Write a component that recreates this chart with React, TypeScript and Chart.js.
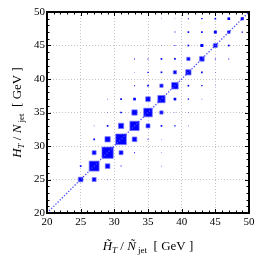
import React, { useEffect, useRef } from 'react';
import { Chart, registerables } from 'chart.js';

Chart.register(...registerables);

// Bin centres (GeV)
const X_BINS = [25, 27, 29, 31, 33, 35, 37, 39, 41, 43, 45, 47, 49];
const Y_BINS = [25, 27, 29, 31, 33, 35, 37, 39, 41, 43, 45, 47, 49];

// Relative bin contents; rows follow Y_BINS, columns follow X_BINS
const ROW_25 = [170, 125, 3, 0, 0, 0, 0, 0, 0, 0, 0, 0, 0];
const ROW_27 = [22, 779, 170, 8, 0, 0, 3, 0, 0, 0, 0, 0, 0];
const ROW_29 = [0, 125, 1000, 125, 8, 0, 3, 0, 0, 0, 0, 0, 0];
const ROW_31 = [0, 22, 221, 886, 170, 8, 3, 0, 0, 0, 0, 0, 0];
const ROW_33 = [0, 3, 22, 221, 678, 125, 22, 14, 3, 0, 0, 0, 0];
const ROW_35 = [0, 0, 3, 22, 221, 585, 87, 3, 3, 0, 0, 0, 0];
const ROW_37 = [0, 0, 3, 22, 55, 170, 419, 55, 14, 3, 0, 0, 0];
const ROW_39 = [0, 0, 0, 0, 8, 22, 87, 346, 22, 14, 3, 0, 0];
const ROW_41 = [0, 0, 0, 0, 3, 14, 22, 87, 221, 22, 3, 0, 0];
const ROW_43 = [0, 0, 0, 0, 8, 8, 22, 22, 87, 170, 8, 8, 0];
const ROW_45 = [0, 0, 0, 0, 0, 0, 3, 8, 22, 70, 125, 22, 0];
const ROW_47 = [0, 0, 0, 0, 0, 0, 0, 8, 22, 22, 70, 70, 14];
const ROW_49 = [0, 0, 0, 0, 0, 0, 3, 3, 8, 14, 22, 55, 70];
const COUNT_ROWS = [ROW_25, ROW_27, ROW_29, ROW_31, ROW_33, ROW_35, ROW_37, ROW_39, ROW_41, ROW_43, ROW_45, ROW_47, ROW_49];

const AXIS_MIN = 20;
const AXIS_MAX = 50;
const MAJOR_STEP = 5;
const MINOR_STEP = 1;
const DIAGONAL = [20, 50];

const MAX_SIDE = 11.3; // px side of the fullest bin

type Pt = { x: number; y: number; v: number };

function buildPoints(): Pt[] {
  const pts: Pt[] = [];
  Y_BINS.forEach((yb, r) => {
    X_BINS.forEach((xb, c) => {
      const v = COUNT_ROWS[r][c];
      if (v > 0) pts.push({ x: xb, y: yb, v });
    });
  });
  return pts;
}

type Seg = { t: string; italic?: boolean; sub?: boolean };
const FAMILY = '"Liberation Serif", "DejaVu Serif", serif';
const MAIN_SIZE = 13;
const SUB_SIZE = 9;

function segFont(s: Seg) {
  return `${s.italic ? 'italic ' : ''}${s.sub ? SUB_SIZE : MAIN_SIZE}px ${FAMILY}`;
}

function drawRich(ctx: CanvasRenderingContext2D, segs: Seg[], cx: number, baseY: number) {
  let total = 0;
  const widths = segs.map((s) => {
    ctx.font = segFont(s);
    const w = ctx.measureText(s.t).width;
    total += w;
    return w;
  });
  let x = cx - total / 2;
  ctx.textAlign = 'left';
  ctx.textBaseline = 'alphabetic';
  segs.forEach((s, i) => {
    ctx.font = segFont(s);
    ctx.fillText(s.t, x, baseY + (s.sub ? 3 : 0));
    x += widths[i];
  });
}

const X_TITLE: Seg[] = [
  { t: 'H\u0303', italic: true },
  { t: 'T', italic: true, sub: true },
  { t: ' / ' },
  { t: '\u00D1', italic: true },
  { t: ' jet', sub: true },
  { t: '  [ GeV ]' },
];
const Y_TITLE: Seg[] = [
  { t: 'H', italic: true },
  { t: 'T', italic: true, sub: true },
  { t: ' / ' },
  { t: 'N', italic: true },
  { t: ' jet', sub: true },
  { t: '  [ GeV ]' },
];

const framePlugin = {
  id: 'frameTicks',
  afterDraw(chart: any) {
    const { ctx, chartArea: a, scales } = chart;
    const xs = scales.x;
    const ys = scales.y;
    ctx.save();
    ctx.strokeStyle = '#000';
    // inward ticks on all sides
    ctx.lineWidth = 1;
    for (let v = AXIS_MIN; v <= AXIS_MAX; v += MINOR_STEP) {
      const major = (v - AXIS_MIN) % MAJOR_STEP === 0;
      const len = major ? 4 : 2.5;
      const px = Math.round(xs.getPixelForValue(v)) + 0.5;
      const py = Math.round(ys.getPixelForValue(v)) + 0.5;
      ctx.beginPath();
      ctx.moveTo(px, a.bottom);
      ctx.lineTo(px, a.bottom - len);
      ctx.moveTo(px, a.top);
      ctx.lineTo(px, a.top + len);
      ctx.moveTo(a.left, py);
      ctx.lineTo(a.left + len, py);
      ctx.moveTo(a.right, py);
      ctx.lineTo(a.right - len, py);
      ctx.stroke();
    }
    // frame
    ctx.lineWidth = 2;
    ctx.strokeRect(a.left, a.top, a.right - a.left, a.bottom - a.top);
    // titles
    ctx.fillStyle = '#000';
    drawRich(ctx, X_TITLE, (a.left + a.right) / 2, 250);
    ctx.translate(21, (a.top + a.bottom) / 2);
    ctx.rotate(-Math.PI / 2);
    drawRich(ctx, Y_TITLE, 0, 0);
    ctx.restore();
  },
};

export default function App() {
  const ref = useRef<HTMLCanvasElement | null>(null);

  useEffect(() => {
    document.body.style.margin = '0';
    const canvas = ref.current;
    if (!canvas) return;
    const points = buildPoints();
    const vmax = Math.max(...points.map((p) => p.v));
    const side = (v: number) => MAX_SIDE * Math.sqrt(v / vmax);

    const gridColor = (c: any) => {
      const v = c.tick ? c.tick.value : 0;
      return v === AXIS_MIN || v === AXIS_MAX ? 'rgba(0,0,0,0)' : '#c4c4c4';
    };
    const tickFont = { family: FAMILY, size: 11 };

    const chart = new Chart(canvas, {
      type: 'scatter',
      data: {
        datasets: [
          {
            type: 'line',
            data: DIAGONAL.map((d) => ({ x: d, y: d })),
            borderColor: '#4848ff',
            backgroundColor: '#4848ff',
            borderWidth: 1.3,
            borderDash: [1.3, 1.7],
            pointRadius: 0,
            showLine: true,
            fill: false,
          } as any,
          {
            data: points,
            pointStyle: 'rect',
            backgroundColor: '#0000ff',
            borderColor: 'rgba(120,120,255,0.9)',
            pointBorderWidth: (c: any) => (side(c.raw.v) > 3 ? 0.8 : 0),
            pointRadius: (c: any) => side(c.raw.v) / Math.SQRT2,
            pointHoverRadius: (c: any) => side(c.raw.v) / Math.SQRT2,
          } as any,
        ],
      },
      options: {
        animation: false,
        responsive: false,
        events: [],
        layout: { padding: { top: 12, right: 11, left: 0, bottom: 0 } },
        plugins: { legend: { display: false }, tooltip: { enabled: false } },
        scales: {
          x: {
            type: 'linear',
            min: AXIS_MIN,
            max: AXIS_MAX,
            ticks: { stepSize: MAJOR_STEP, color: '#000', font: tickFont, padding: 3, maxRotation: 0 },
            grid: { color: gridColor, drawTicks: false, lineWidth: 1 },
            border: { display: false, dash: [1, 2] },
            afterFit: (s: any) => {
              s.height = 47;
            },
          },
          y: {
            type: 'linear',
            min: AXIS_MIN,
            max: AXIS_MAX,
            ticks: { stepSize: MAJOR_STEP, color: '#000', font: tickFont, padding: 2 },
            grid: { color: gridColor, drawTicks: false, lineWidth: 1 },
            border: { display: false, dash: [1, 2] },
            afterFit: (s: any) => {
              s.width = 47;
            },
          },
        },
      },
      plugins: [framePlugin],
    });
    return () => chart.destroy();
  }, []);

  return (
    <div style={{ position: 'fixed', left: 0, top: 0, width: 260, height: 260, background: '#fff' }}>
      <canvas ref={ref} width={260} height={260} style={{ width: 260, height: 260, display: 'block' }} />
    </div>
  );
}
